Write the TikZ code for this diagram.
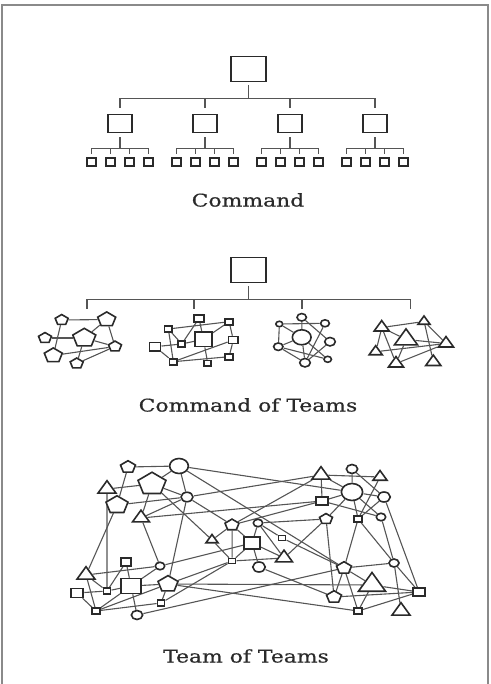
\documentclass[tikz,border=0pt]{standalone}
\usepackage{fontspec}
\setmainfont{DejaVu Serif}
\newfontfamily\lblfont[FakeBold=0.5]{DejaVu Serif}
\usetikzlibrary{shapes.geometric,backgrounds}
\definecolor{ink}{HTML}{2A2A2A}
\definecolor{wire}{HTML}{555555}
\definecolor{framec}{HTML}{8A8A8A}
\begin{document}
\begin{tikzpicture}[x={(0.8pt,0)}, y={(0,-1pt)}, xscale=1.25, transform shape,
  box/.style 2 args={draw=ink, fill=white, line width=1.6pt, rectangle, inner sep=0pt,
    minimum width={#1*0.8pt}, minimum height={#2*1pt}},
  pent/.style={draw=ink, fill=white, line width=1.6pt, regular polygon, regular polygon sides=5,
    inner sep=0pt, minimum size={#1/1.19*1pt}},
  tri/.style={draw=ink, fill=white, line width=1.6pt, regular polygon, regular polygon sides=3,
    inner sep=0pt, minimum size={#1/1.08*1pt}},
  circ/.style={draw=ink, fill=white, line width=1.6pt, circle, inner sep=0pt, minimum size={#1*1pt}},
  conn/.style={draw=wire, line width=1.2pt},
  wirel/.style={draw=wire, line width=1.1pt},
  lbl/.style={text=ink, inner sep=0pt, font=\lblfont\fontsize{17.5}{21}\selectfont}]
\useasboundingbox (0,0) rectangle (490,684);
\draw[framec, line width=1.2pt] (2,5) rectangle (488,690);

% ---------- Command ----------
\node[box={35}{25}] (top1) at (248.5,69) {};
\foreach \i/\x in {1/120,2/205,3/290,4/375}{
  \node[box={24}{18}] (m\i) at (\x,123.5) {};
  \draw[conn, shorten <=3pt, shorten >=6pt] (top1.south) -- ++(0,16) -| (m\i.north);
  \foreach \j/\d in {1/-28.5,2/-9.5,3/9.5,4/28.5}{
    \node[box={9.5}{7.5}] (s\i\j) at (\x+\d,162) {};
    \draw[conn, shorten <=4pt, shorten >=3pt] (m\i.south) -- ++(0,15) -| (s\i\j.north);
  }
}
\node[lbl] (cmd) at (248,200) {Command};

% ---------- Command of Teams ----------
\node[box={35}{25}] (top2) at (248.5,270) {};
\foreach \k/\x in {1/87,2/194,3/302,4/410}{
  \coordinate (k\k) at (\x,309);
  \draw[conn, shorten <=3pt] (top2.south) -- ++(0,16) -| (k\k);
}
% pentagon team
\node[pent=13] (pa) at (61.7,320) {};
\node[pent=18] (pb) at (106.7,319.5) {};
\node[pent=23] (pc) at (84.3,338) {};
\node[pent=13] (pd) at (45,338) {};
\node[pent=18] (pe) at (53.3,355.5) {};
\node[pent=13] (pf) at (115,346.5) {};
\node[pent=13] (pg) at (76.7,363.5) {};
% square team
\node[box={9.5}{7}] (sa) at (199,318.3) {};
\node[box={7.5}{6}] (sb) at (229,321.7) {};
\node[box={7.5}{6}] (sc) at (168.3,329) {};
\node[box={17}{14.5}] (sd) at (203.3,339.3) {};
\node[box={7}{6}] (se) at (181.7,344) {};
\node[box={9.5}{7}] (sf) at (233.3,340) {};
\node[box={11}{8.5}] (sg) at (155,346.7) {};
\node[box={7.5}{6}] (sh) at (173.3,361.7) {};
\node[box={7.5}{6}] (si) at (229,356.7) {};
\node[box={7}{5.5}] (sj) at (207.7,363.3) {};
% circle team
\node[circ=7.5] (ca) at (301.7,317.3) {};
\node[circ=5.5] (cb) at (279.3,324) {};
\node[circ=7] (cc) at (325,323.3) {};
\node[circ=15] (cd) at (301.7,337.3) {};
\node[circ=8.5] (ce) at (330,341.7) {};
\node[circ=7.5] (cf) at (278.3,346.7) {};
\node[circ=8.5] (cg) at (305,362.7) {};
\node[circ=6] (ch) at (327.7,359.3) {};
% triangle team
\node[tri=15] (ta) at (381.7,327.5) {};
\node[tri=12] (tb) at (424,321.5) {};
\node[tri=23] (tc) at (406,339.5) {};
\node[tri=15] (td) at (446,343.5) {};
\node[tri=13] (te) at (375.7,351.7) {};
\node[tri=15] (tf) at (396,363.5) {};
\node[tri=15] (tg) at (433.3,362) {};

\node[lbl] (cot) at (248,405) {Command of Teams};

% ---------- Team of Teams ----------
\node[pent=15] (P1) at (128,467) {};
\node[circ=15] (C1) at (179,466) {};
\node[tri=18] (T1) at (107,489) {};
\node[pent=28] (P2) at (152,484) {};
\node[circ=9.5] (C2) at (187,497) {};
\node[pent=22] (P3) at (117,505) {};
\node[tri=17] (T2) at (141,518) {};
\node[pent=14] (P4) at (232,525) {};
\node[circ=7.5] (C3) at (258,523) {};
\node[tri=12] (T3) at (212,540) {};
\node[box={16}{12}] (S1) at (252,543) {};
\node[box={7}{5}] (Sq) at (282,538) {};
\node[tri=17] (T4) at (284,558) {};
\node[box={7}{5}] (S2) at (232,561) {};
\node[circ=10] (C4) at (259,567) {};
\node[circ=7.5] (C5) at (160,566) {};
\node[box={10.5}{8}] (S3) at (126,562) {};
\node[tri=18] (T5) at (86,575) {};
\node[box={7}{6}] (S4) at (107,591) {};
\node[box={20}{15}] (S5) at (131,586) {};
\node[pent=20] (P5) at (168,584) {};
\node[box={12.5}{9}] (S6) at (77,593) {};
\node[box={8}{6}] (S7) at (96,611) {};
\node[box={7}{5.5}] (S8) at (161,603) {};
\node[circ=9] (C6) at (137,615) {};
\node[tri=18] (T6) at (321,475) {};
\node[circ=9] (C7) at (352,469) {};
\node[tri=14] (T7) at (380,477) {};
\node[circ=17] (C8) at (352,492) {};
\node[circ=10] (C9) at (384,497) {};
\node[box={11.5}{8}] (S9) at (322,501) {};
\node[pent=13] (P6) at (326,519) {};
\node[box={8}{5.5}] (S10) at (358,519) {};
\node[circ=7.5] (C10) at (381,517) {};
\node[circ=8] (C11) at (394,563) {};
\node[pent=15] (P7) at (344,568) {};
\node[tri=27] (T8) at (372,585) {};
\node[box={11.5}{8}] (S11) at (419,592) {};
\node[pent=15] (P8) at (334,597) {};
\node[box={8}{6}] (S12) at (358,611) {};
\node[tri=18] (T9) at (401,611) {};

\node[lbl] (tot) at (246,656) {Team of Teams};

\begin{scope}[on background layer]
\foreach \a/\b in {pa/pb,pa/pe,pd/pc,pb/pc,pb/pf,pc/pf,pc/pg,pe/pf,pg/pf,
  sc/sb,sa/se,sa/sd,sc/se,sc/sh,sb/sd,sb/sf,sg/se,sg/sh,se/sd,sd/sj,sh/sf,sh/si,sf/si,
  cb/cc,ca/cd,ca/ce,cb/cf,cb/cd,cc/cg,cf/cd,cf/cg,cf/ch,cd/cg,cd/ch,ce/cg,
  ta/tb,ta/tc,ta/te,ta/tf,tb/td,tb/tg,tc/td,te/td,tc/tf,tf/td}
  \draw[wirel] (\a) -- (\b);
\foreach \a/\b in {P1/C1,P1/P3,T1/P2,C1/P2,C1/C2,P2/C2,P2/T2,P3/C2,T2/C2,T2/S9,C2/T6,
  C1/C8,C1/P7,P2/T3,T3/S2,C2/P4,C2/P5,T2/C5,T1/S4,P3/T5,P4/T3,P4/S2,P4/S1,P4/T6,P4/S9,
  C3/S1,C3/P6,C3/T4,C3/Sq,Sq/P7,S1/T4,S1/C4,S1/S2,S2/T4,S1/C5,S2/P5,S2/S8,T4/P6,
  C4/P8,C5/T5,C5/S5,S3/S4,S3/S5,T5/S7,T5/S4,S6/S4,S4/S5,S6/S7,S5/S7,S7/P5,S5/C6,S5/P5,
  P5/S8,P5/T8,P5/S12,S7/S8,C6/P7,
  T6/T7,T6/C8,T6/S9,C7/C8,C7/C9,C8/S9,C8/C9,C8/P6,C8/S10,C8/C10,T7/S10,S9/C10,S10/C9,
  C9/S11,C10/C11,S10/C11,S10/P7,C11/T9,C11/S11,P7/C11,T8/S11,P8/S11,S12/S11,T8/S12,
  P7/T8,P7/P8,P7/S12,P6/P8}
  \draw[wirel] (\a) -- (\b);
\end{scope}
\end{tikzpicture}
\end{document}
